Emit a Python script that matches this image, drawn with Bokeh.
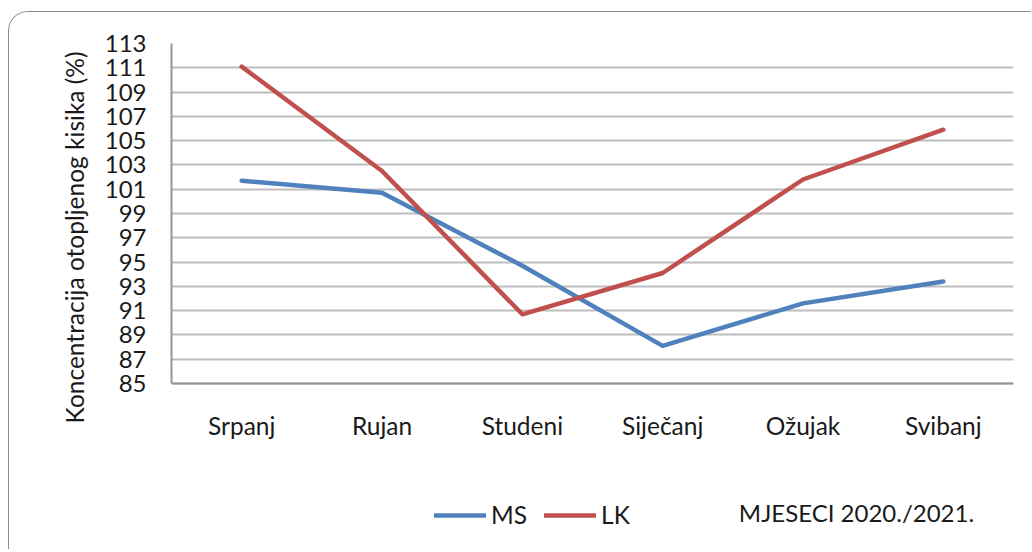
from bokeh.plotting import figure
from bokeh.models import Range1d, FixedTicker, Legend, LegendItem, Label, Span, Title
from bokeh.core.properties import value
from bokeh.embed import file_html
from bokeh.resources import INLINE

months = ["Srpanj", "Rujan", "Studeni", "Siječanj", "Ožujak", "Svibanj"]
ms_values = [101.7, 100.7, 94.7, 88.1, 91.6, 93.4]
lk_values = [111.1, 102.5, 90.7, 94.1, 101.8, 105.9]
y_ticks = list(range(85, 114, 2))
y_title = "Koncentracija otopljenog kisika (%)"
x_title = "MJESECI 2020./2021."

FONT = "Lato"
TXT = "#1a1a1a"
Y_MIN, Y_MAX = 85, 113
PX_PER_UNIT = 340 / (Y_MAX - Y_MIN)      # vertical scale of the value axis
FRAME_EXTRA = 163                          # px of frame below the value axis (legend area)
y_lo = Y_MIN - FRAME_EXTRA / PX_PER_UNIT
x_pos = [i + 0.5 for i in range(len(months))]

def below(px):
    """data y that lies px pixels below the value-axis baseline"""
    return Y_MIN - px / PX_PER_UNIT

p = figure(width=1023, height=538, output_backend="svg", toolbar_location=None,
           x_range=Range1d(0, len(months)), y_range=Range1d(y_lo, Y_MAX),
           min_border_left=162, min_border_top=31, min_border_right=19, min_border_bottom=4)
p.styles = {"margin-left": "8px", "margin-top": "11px",
            "border-top": "1px solid #8c8c8c", "border-left": "1px solid #8c8c8c",
            "border-top-left-radius": "20px", "overflow": "hidden"}
p.outline_line_color = None
p.background_fill_color = "white"
p.border_fill_color = "white"

p.xgrid.grid_line_color = None
p.ygrid.grid_line_color = "#bdbdbd"
p.ygrid.grid_line_width = 2
p.ygrid.ticker = FixedTicker(ticks=y_ticks)

p.add_layout(Span(location=Y_MIN, dimension="width", line_color="#959595", line_width=2))

r_ms = p.line(x_pos, ms_values, line_color="#4F81BD", line_width=4.5, line_cap="round", line_join="round")
r_lk = p.line(x_pos, lk_values, line_color="#C0504D", line_width=4.5, line_cap="round", line_join="round")

p.text(x=x_pos, y=[below(42)] * len(months), text=months, text_align="center",
       text_baseline="alphabetic", text_font=value(FONT), text_font_size="24.5px", text_color=TXT)

p.xaxis.visible = False
ax = p.yaxis[0]
ax.ticker = FixedTicker(ticks=y_ticks)
ax.bounds = (Y_MIN, Y_MAX)
ax.axis_line_color = "#959595"
ax.axis_line_width = 2
ax.major_tick_line_color = None
ax.minor_tick_line_color = None
ax.major_label_text_font = FONT
ax.major_label_text_font_size = "24px"
ax.major_label_text_color = TXT
ax.major_label_standoff = 19

p.add_layout(Title(text=y_title, align="right", offset=8, standoff=26,
                   text_font=FONT, text_font_size="24.5px", text_font_style="normal",
                   text_color=TXT), "left")

legend = Legend(items=[LegendItem(label="MS", renderers=[r_ms]),
                       LegendItem(label="LK", renderers=[r_lk])],
                orientation="horizontal", location=(263, 17),
                padding=0, margin=0, spacing=17, label_standoff=5,
                glyph_width=52, glyph_height=20, label_height=20,
                border_line_color=None, background_fill_alpha=0,
                label_text_font=FONT, label_text_font_size="24.5px", label_text_color=TXT)
p.add_layout(legend, "center")

p.add_layout(Label(x=4.881, y=below(129), text=x_title, text_align="center",
                   text_baseline="alphabetic", text_font=FONT, text_font_size="24px",
                   text_color=TXT))

open("out.html", "w").write(file_html(p, INLINE))
